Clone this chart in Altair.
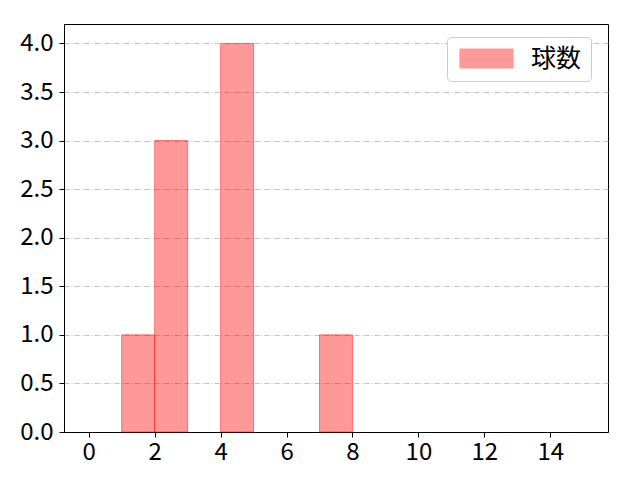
import altair as alt
import pandas as pd

bin_start = [1, 2, 4, 7]
bin_end = [2, 3, 5, 8]
counts = [1, 3, 4, 1]
series = ["球数"] * 4

df = pd.DataFrame({"start": bin_start, "end": bin_end, "count": counts, "series": series})

FONT = "Noto Sans CJK JP"
FS = 24

chart = alt.Chart(df).mark_rect(
    fillOpacity=0.4, stroke="red", strokeOpacity=0.45, strokeWidth=1
).encode(
    x=alt.X("start:Q", scale=alt.Scale(domain=[-0.75, 15.75], nice=False, zero=False),
            axis=alt.Axis(values=[0, 2, 4, 6, 8, 10, 12, 14], title=None, grid=False,
                          labelFontSize=FS, labelFont=FONT, labelColor="black",
                          tickColor="black", domainColor="black", tickSize=5,
                          labelPadding=3, labelFlush=False)),
    x2="end:Q",
    y=alt.Y("count:Q", scale=alt.Scale(domain=[0, 4.2], nice=False),
            axis=alt.Axis(values=[0, 0.5, 1, 1.5, 2, 2.5, 3, 3.5, 4], format=".1f", title=None,
                          grid=True, gridColor="#b0b0b0", gridDash=[5, 2, 1, 2], gridWidth=0.8,
                          labelFontSize=FS, labelFont=FONT, labelColor="black",
                          tickColor="black", domainColor="black", tickSize=5,
                          labelPadding=6, labelFlush=False)),
    y2=alt.datum(0),
    color=alt.Color("series:N", scale=alt.Scale(range=["red"]),
                    legend=alt.Legend(title=None, orient="none", legendX=383, legendY=13,
                                      symbolType="M-2.8,-1L2.8,-1L2.8,1L-2.8,1Z",
                                      symbolSize=361, symbolOpacity=0.4, symbolOffset=18,
                                      symbolStrokeColor="red", symbolStrokeWidth=1,
                                      labelFontSize=25, labelFont=FONT, labelColor="black",
                                      labelOffset=32, strokeColor="#cccccc", cornerRadius=4,
                                      padding=9, fillColor="white")),
).properties(
    width=544, height=408,
    autosize="none",
    padding={"left": 56, "top": 16, "right": 24, "bottom": 40},
).configure_view(
    stroke="black", strokeWidth=1
)

chart.save("out.html", embed_options={"renderer": "svg", "actions": False})
